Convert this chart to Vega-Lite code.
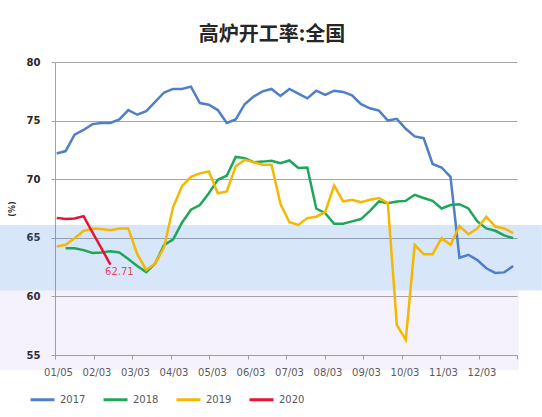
{
  "$schema": "https://vega.github.io/schema/vega-lite/v6.json",
  "width": 462,
  "height": 293,
  "autosize": "none",
  "padding": {"left": 55, "top": 62, "right": 25, "bottom": 62},
  "background": "white",
  "config": {
    "view": {"stroke": null},
    "axisX": {"grid": false, "tickSize": 4, "tickColor": "#a0a0a0", "domainColor": "#a0a0a0",
      "labelFont": "DejaVu Sans", "labelFontSize": 10, "labelColor": "#595959", "labelPadding": 8, "labelOffset": 3,
      "labelFlush": false, "labelOverlap": false, "labelSeparation": 0},
    "axisY": {"grid": true, "gridColor": "#a6a6a6", "tickSize": 4, "tickColor": "#a6a6a6", "domainColor": "#a0a0b4",
      "labelFont": "DejaVu Sans", "labelFontWeight": "bold", "labelFontSize": 10, "labelColor": "#262626", "labelPadding": 11,
      "titleFont": "DejaVu Sans", "titleFontSize": 8, "titleFontWeight": "bold", "titleColor": "#262626", "titlePadding": 10}
  },
  "title": {"text": "高炉开工率:全国", "font": "Noto Sans CJK SC", "fontSize": 20, "fontWeight": "bold", "color": "#262626", "anchor": "middle", "dx": -14, "offset": 12},
  "data": {"values": [
    {"year":"2017","i":0,"v":72.2},{"year":"2017","i":1,"v":72.4},{"year":"2017","i":2,"v":73.8},{"year":"2017","i":3,"v":74.2},{"year":"2017","i":4,"v":74.7},{"year":"2017","i":5,"v":74.8},{"year":"2017","i":6,"v":74.8},{"year":"2017","i":7,"v":75.1},{"year":"2017","i":8,"v":75.9},{"year":"2017","i":9,"v":75.5},{"year":"2017","i":10,"v":75.8},{"year":"2017","i":11,"v":76.6},{"year":"2017","i":12,"v":77.4},{"year":"2017","i":13,"v":77.7},{"year":"2017","i":14,"v":77.7},{"year":"2017","i":15,"v":77.9},{"year":"2017","i":16,"v":76.5},{"year":"2017","i":17,"v":76.35},{"year":"2017","i":18,"v":75.9},{"year":"2017","i":19,"v":74.8},{"year":"2017","i":20,"v":75.1},{"year":"2017","i":21,"v":76.4},{"year":"2017","i":22,"v":77.05},{"year":"2017","i":23,"v":77.5},{"year":"2017","i":24,"v":77.7},{"year":"2017","i":25,"v":77.1},{"year":"2017","i":26,"v":77.7},{"year":"2017","i":27,"v":77.3},{"year":"2017","i":28,"v":76.9},{"year":"2017","i":29,"v":77.55},{"year":"2017","i":30,"v":77.2},{"year":"2017","i":31,"v":77.55},{"year":"2017","i":32,"v":77.45},{"year":"2017","i":33,"v":77.15},{"year":"2017","i":34,"v":76.4},{"year":"2017","i":35,"v":76.05},{"year":"2017","i":36,"v":75.85},{"year":"2017","i":37,"v":75.0},{"year":"2017","i":38,"v":75.15},{"year":"2017","i":39,"v":74.3},{"year":"2017","i":40,"v":73.65},{"year":"2017","i":41,"v":73.5},{"year":"2017","i":42,"v":71.3},{"year":"2017","i":43,"v":71.0},{"year":"2017","i":44,"v":70.2},{"year":"2017","i":45,"v":63.3},{"year":"2017","i":46,"v":63.55},{"year":"2017","i":47,"v":63.1},{"year":"2017","i":48,"v":62.4},{"year":"2017","i":49,"v":62.0},{"year":"2017","i":50,"v":62.05},{"year":"2017","i":51,"v":62.6},
    {"year":"2018","i":1,"v":64.1},{"year":"2018","i":2,"v":64.1},{"year":"2018","i":3,"v":63.95},{"year":"2018","i":4,"v":63.7},{"year":"2018","i":5,"v":63.75},{"year":"2018","i":6,"v":63.85},{"year":"2018","i":7,"v":63.75},{"year":"2018","i":8,"v":63.2},{"year":"2018","i":9,"v":62.6},{"year":"2018","i":10,"v":62.07},{"year":"2018","i":11,"v":62.8},{"year":"2018","i":12,"v":64.4},{"year":"2018","i":13,"v":64.85},{"year":"2018","i":14,"v":66.3},{"year":"2018","i":15,"v":67.4},{"year":"2018","i":16,"v":67.8},{"year":"2018","i":17,"v":68.8},{"year":"2018","i":18,"v":69.95},{"year":"2018","i":19,"v":70.3},{"year":"2018","i":20,"v":71.9},{"year":"2018","i":21,"v":71.8},{"year":"2018","i":22,"v":71.45},{"year":"2018","i":23,"v":71.5},{"year":"2018","i":24,"v":71.57},{"year":"2018","i":25,"v":71.37},{"year":"2018","i":26,"v":71.6},{"year":"2018","i":27,"v":70.95},{"year":"2018","i":28,"v":71.0},{"year":"2018","i":29,"v":67.5},{"year":"2018","i":30,"v":67.1},{"year":"2018","i":31,"v":66.2},{"year":"2018","i":32,"v":66.2},{"year":"2018","i":33,"v":66.4},{"year":"2018","i":34,"v":66.6},{"year":"2018","i":35,"v":67.3},{"year":"2018","i":36,"v":68.1},{"year":"2018","i":37,"v":67.96},{"year":"2018","i":38,"v":68.1},{"year":"2018","i":39,"v":68.15},{"year":"2018","i":40,"v":68.67},{"year":"2018","i":41,"v":68.4},{"year":"2018","i":42,"v":68.15},{"year":"2018","i":43,"v":67.5},{"year":"2018","i":44,"v":67.8},{"year":"2018","i":45,"v":67.87},{"year":"2018","i":46,"v":67.5},{"year":"2018","i":47,"v":66.4},{"year":"2018","i":48,"v":65.8},{"year":"2018","i":49,"v":65.6},{"year":"2018","i":50,"v":65.2},{"year":"2018","i":51,"v":64.97},
    {"year":"2019","i":0,"v":64.25},{"year":"2019","i":1,"v":64.4},{"year":"2019","i":2,"v":64.97},{"year":"2019","i":3,"v":65.6},{"year":"2019","i":4,"v":65.8},{"year":"2019","i":5,"v":65.76},{"year":"2019","i":6,"v":65.65},{"year":"2019","i":7,"v":65.8},{"year":"2019","i":8,"v":65.8},{"year":"2019","i":9,"v":63.6},{"year":"2019","i":10,"v":62.26},{"year":"2019","i":11,"v":62.8},{"year":"2019","i":12,"v":64.2},{"year":"2019","i":13,"v":67.6},{"year":"2019","i":14,"v":69.4},{"year":"2019","i":15,"v":70.2},{"year":"2019","i":16,"v":70.5},{"year":"2019","i":17,"v":70.66},{"year":"2019","i":18,"v":68.8},{"year":"2019","i":19,"v":68.95},{"year":"2019","i":20,"v":71.1},{"year":"2019","i":21,"v":71.65},{"year":"2019","i":22,"v":71.46},{"year":"2019","i":23,"v":71.23},{"year":"2019","i":24,"v":71.23},{"year":"2019","i":25,"v":67.9},{"year":"2019","i":26,"v":66.33},{"year":"2019","i":27,"v":66.1},{"year":"2019","i":28,"v":66.68},{"year":"2019","i":29,"v":66.8},{"year":"2019","i":30,"v":67.2},{"year":"2019","i":31,"v":69.46},{"year":"2019","i":32,"v":68.1},{"year":"2019","i":33,"v":68.24},{"year":"2019","i":34,"v":68.04},{"year":"2019","i":35,"v":68.24},{"year":"2019","i":36,"v":68.4},{"year":"2019","i":37,"v":67.96},{"year":"2019","i":38,"v":57.57},{"year":"2019","i":39,"v":56.3},{"year":"2019","i":40,"v":64.4},{"year":"2019","i":41,"v":63.6},{"year":"2019","i":42,"v":63.6},{"year":"2019","i":43,"v":64.97},{"year":"2019","i":44,"v":64.4},{"year":"2019","i":45,"v":66.0},{"year":"2019","i":46,"v":65.3},{"year":"2019","i":47,"v":65.8},{"year":"2019","i":48,"v":66.8},{"year":"2019","i":49,"v":65.96},{"year":"2019","i":50,"v":65.8},{"year":"2019","i":51,"v":65.4},
    {"year":"2020","i":0,"v":66.7},{"year":"2020","i":1,"v":66.6},{"year":"2020","i":2,"v":66.65},{"year":"2020","i":3,"v":66.85},{"year":"2020","i":4,"v":65.45},{"year":"2020","i":5,"v":64.1},{"year":"2020","i":6,"v":62.71}
  ]},
  "layer": [
    {
      "data": {"values": [{"lo": 60.5, "hi": 66.1}]},
      "mark": {"type": "rect", "fill": "#3b82e6", "opacity": 0.2, "clip": false},
      "encoding": {
        "x": {"datum": -6.34, "type": "quantitative", "scale": {"domain": [-0.19, 51.43], "nice": false, "zero": false},
          "axis": {
            "values": [-0.19, 4.1117, 8.4134, 12.715, 17.017, 21.319, 25.62, 29.922, 34.224, 38.525, 42.827, 47.129, 51.43],
            "tickCount": 30,
            "labelExpr": "['01/05','02/03','03/03','04/03','05/03','06/03','07/03','08/03','09/03','10/03','11/03','12/03',''][round((datum.value+0.19)/4.3017)]",
            "labelOverlap": false, "labelFlush": false, "title": null
          }},
        "x2": {"datum": 54.2},
        "y": {"field": "lo", "type": "quantitative", "scale": {"domain": [55, 80], "nice": false, "zero": false},
          "axis": {"values": [55, 60, 65, 70, 75, 80], "tickCount": 10, "title": "(%)"}},
        "y2": {"field": "hi"}
      }
    },
    {
      "data": {"values": [{"lo": 53.7, "hi": 60.5}]},
      "mark": {"type": "rect", "fill": "#a070e0", "opacity": 0.09, "clip": false},
      "encoding": {
        "x": {"datum": -6.34, "type": "quantitative"},
        "x2": {"datum": 51.65},
        "y": {"field": "lo", "type": "quantitative"},
        "y2": {"field": "hi"}
      }
    },
    {
      "mark": {"type": "line", "strokeWidth": 2.5},
      "encoding": {
        "x": {"field": "i", "type": "quantitative"},
        "y": {"field": "v", "type": "quantitative"},
        "color": {"field": "year", "type": "nominal",
          "scale": {"domain": ["2017", "2018", "2019", "2020"], "range": ["#4f7fc9", "#1ea65a", "#f5b700", "#e8132e"]},
          "legend": {"orient": "none", "legendX": -26, "legendY": 324, "direction": "horizontal", "title": null,
            "symbolType": "stroke", "symbolSize": 576, "symbolStrokeWidth": 3,
            "labelFont": "DejaVu Sans", "labelFontSize": 10, "labelColor": "#595959", "labelOffset": 4, "columnPadding": 11}
        }
      }
    },
    {
      "transform": [{"filter": "datum.year == '2020' && datum.i == 6"}],
      "mark": {"type": "text", "dx": 9, "dy": 7, "align": "center", "baseline": "middle", "font": "DejaVu Sans", "fontSize": 10, "fill": "#e8455f"},
      "encoding": {
        "x": {"field": "i", "type": "quantitative"},
        "y": {"field": "v", "type": "quantitative"},
        "text": {"field": "v", "type": "quantitative", "format": ".2f"}
      }
    }
  ]
}
